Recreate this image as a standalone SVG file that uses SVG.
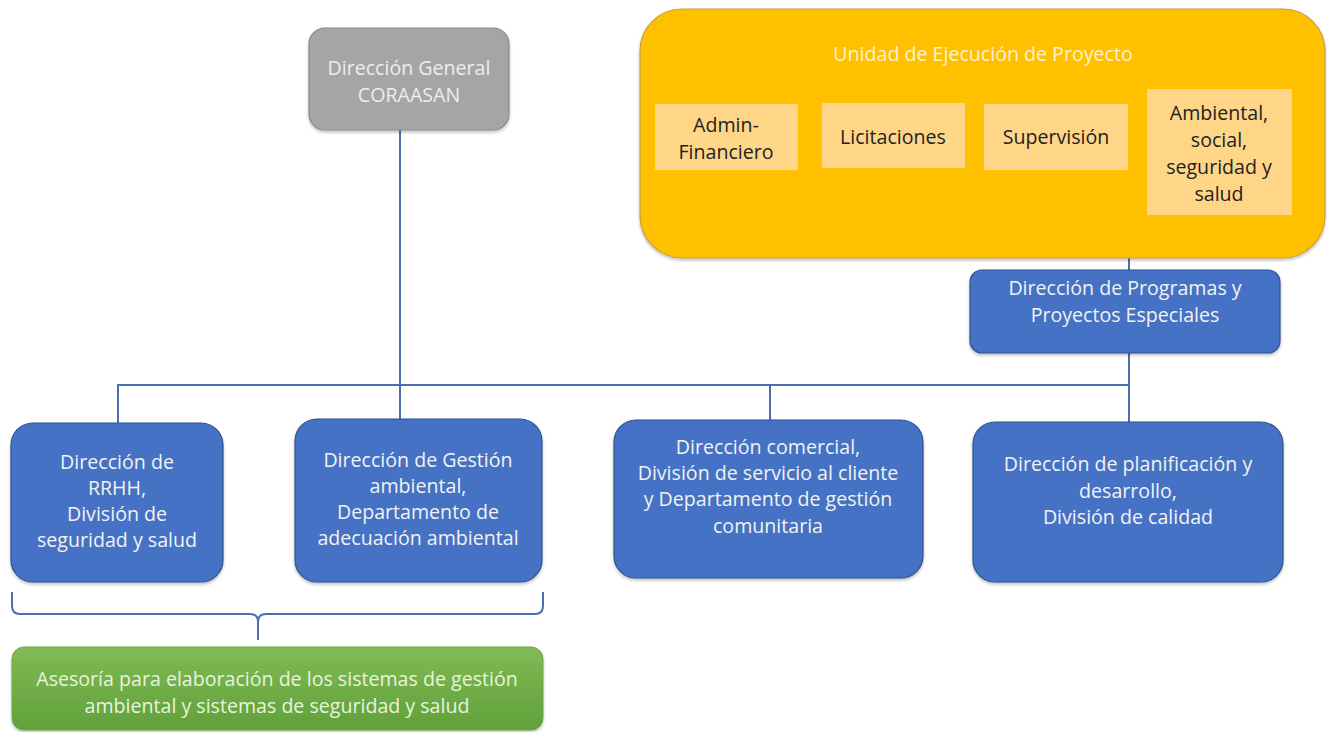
<svg xmlns="http://www.w3.org/2000/svg" width="1327" height="732" viewBox="0 0 1327 732">
<defs>
<linearGradient id="gGreen" x1="0" y1="0" x2="0" y2="1">
<stop offset="0" stop-color="#80BB55"/>
<stop offset="1" stop-color="#61A03A"/>
</linearGradient>
<filter id="sh" x="-5%" y="-5%" width="110%" height="115%">
<feDropShadow dx="0" dy="2" stdDeviation="1.5" flood-color="#000" flood-opacity="0.25"/>
</filter>
</defs>
<style>
text{font-family:"Open Sans","Noto Sans","Liberation Sans",sans-serif;font-size:19.6px;text-anchor:middle}
.blue{fill:#4472C4;stroke:#2F528F;stroke-width:1.2}
.wt{fill:#F2F2F2}
.sub{fill:#FFD688}
.dk{fill:#222}
.conn{fill:none;stroke:#4A6FB0;stroke-width:2}
</style>
<rect width="1327" height="732" fill="#FFFFFF"/>

<g id="connectors">
<line class="conn" x1="400" y1="130" x2="400" y2="419"/>
<line class="conn" x1="118" y1="385" x2="1129" y2="385"/>
<line class="conn" x1="118" y1="384" x2="118" y2="423"/>
<line class="conn" x1="770" y1="384" x2="770" y2="420"/>
<line class="conn" x1="1129" y1="353" x2="1129" y2="422"/>
<line class="conn" x1="1129" y1="258" x2="1129" y2="270"/>
<path class="conn" d="M12,592 L12,606 Q12,614 20,614 L250,614 Q258,614 258,622 L258,640 M258,622 Q258,614 266,614 L535,614 Q543,614 543,606 L543,592"/>
</g>

<g id="direccion-general">
<rect x="309" y="28" width="200" height="102" rx="16" fill="#A5A5A5" stroke="#8A8A8A" stroke-width="1.2" filter="url(#sh)"/>
<text x="409" y="75" fill="#EDEDED">Dirección General</text>
<text x="409" y="102" fill="#EDEDED">CORAASAN</text>
</g>

<g id="unidad-ejecucion">
<rect x="640" y="9" width="685" height="249" rx="42" fill="#FFC000" stroke="#C9A040" stroke-width="1.2" filter="url(#sh)"/>
<text x="983" y="61" fill="#FFF2CC">Unidad de Ejecución de Proyecto</text>
</g>

<g id="admin-financiero">
<rect class="sub" x="655" y="104" width="143" height="66"/>
<text class="dk" x="726" y="132">Admin-</text>
<text class="dk" x="726" y="159">Financiero</text>
</g>

<g id="licitaciones">
<rect class="sub" x="822" y="103" width="143" height="65"/>
<text class="dk" x="893" y="144">Licitaciones</text>
</g>

<g id="supervision">
<rect class="sub" x="984" y="104" width="144" height="66"/>
<text class="dk" x="1056" y="144">Supervisión</text>
</g>

<g id="ambiental-social">
<rect class="sub" x="1147" y="89" width="145" height="126"/>
<text class="dk" x="1219" y="120">Ambiental,</text>
<text class="dk" x="1219" y="147">social,</text>
<text class="dk" x="1219" y="174">seguridad y</text>
<text class="dk" x="1219" y="201">salud</text>
</g>

<g id="programas-especiales">
<rect class="blue" x="970" y="270" width="310" height="83" rx="12" filter="url(#sh)"/>
<text class="wt" x="1125" y="295">Dirección de Programas y</text>
<text class="wt" x="1125" y="322">Proyectos Especiales</text>
</g>

<g id="rrhh">
<rect class="blue" x="11" y="423" width="212" height="159" rx="22" filter="url(#sh)"/>
<text class="wt" x="117" y="469">Dirección de</text>
<text class="wt" x="117" y="495">RRHH,</text>
<text class="wt" x="117" y="521">División de</text>
<text class="wt" x="117" y="547">seguridad y salud</text>
</g>

<g id="gestion-ambiental">
<rect class="blue" x="295" y="419" width="247" height="163" rx="22" filter="url(#sh)"/>
<text class="wt" x="418" y="467">Dirección de Gestión</text>
<text class="wt" x="418" y="493">ambiental,</text>
<text class="wt" x="418" y="519">Departamento de</text>
<text class="wt" x="418" y="545">adecuación ambiental</text>
</g>

<g id="comercial">
<rect class="blue" x="614" y="420" width="309" height="158" rx="22" filter="url(#sh)"/>
<text class="wt" x="768" y="454">Dirección comercial,</text>
<text class="wt" x="768" y="480">División de servicio al cliente</text>
<text class="wt" x="768" y="506">y Departamento de gestión</text>
<text class="wt" x="768" y="533">comunitaria</text>
</g>

<g id="planificacion">
<rect class="blue" x="973" y="422" width="310" height="160" rx="22" filter="url(#sh)"/>
<text class="wt" x="1128" y="471">Dirección de planificación y</text>
<text class="wt" x="1128" y="498">desarrollo,</text>
<text class="wt" x="1128" y="524">División de calidad</text>
</g>

<g id="asesoria">
<rect x="12" y="647" width="531" height="83" rx="12" fill="url(#gGreen)" stroke="#6FA54A" stroke-width="1" filter="url(#sh)"/>
<text x="277" y="686" fill="#E8F3DF">Asesoría para elaboración de los sistemas de gestión</text>
<text x="277" y="713" fill="#E8F3DF">ambiental y sistemas de seguridad y salud</text>
</g>
</svg>
